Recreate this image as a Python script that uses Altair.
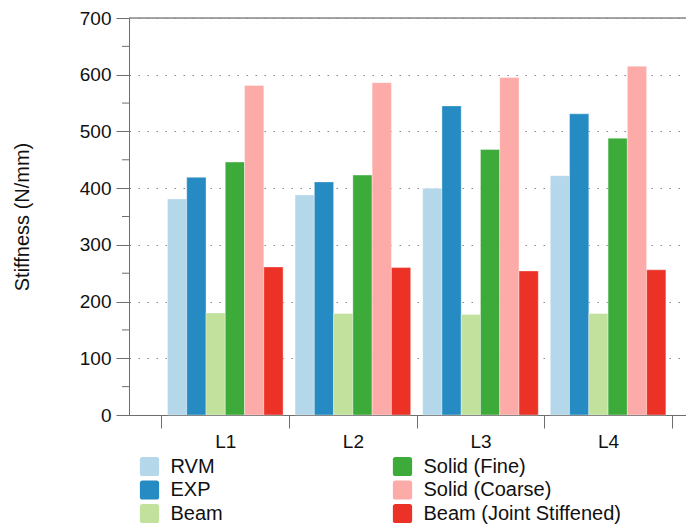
import altair as alt
import pandas as pd

groups = ["L1", "L2", "L3", "L4"]
series = ["RVM", "EXP", "Beam", "Solid (Fine)", "Solid (Coarse)", "Beam (Joint Stiffened)"]
colors = ["#b4d7ea", "#258bc2", "#c1e19d", "#3dab3a", "#fdaba8", "#ec3226"]

rvm = [381, 388, 400, 422]
exp_ = [419, 411, 545, 531]
beam = [180, 179, 177, 179]
solid_fine = [446, 423, 468, 488]
solid_coarse = [581, 586, 595, 615]
beam_joint = [261, 260, 254, 256]

y_ticks = [0, 100, 200, 300, 400, 500, 600, 700]
minor_ticks = [50, 150, 250, 350, 450, 550, 650]
y_max = 700

values = [rvm, exp_, beam, solid_fine, solid_coarse, beam_joint]
rows = []
for s, vals in zip(series, values):
    for g, v in zip(groups, vals):
        rows.append({"group": g, "series": s, "value": v})
df = pd.DataFrame(rows)

AX = "#6e6e6e"
FONT = "Liberation Sans"
W, H = 557, 397
TITLE = "Stiffness (N/mm)"

rounded_square = ("M-0.72,-1 L0.72,-1 Q1,-1 1,-0.72 L1,0.72 Q1,1 0.72,1 "
                  "L-0.72,1 Q-1,1 -1,0.72 L-1,-0.72 Q-1,-1 -0.72,-1 Z")

bars = alt.Chart(df).mark_bar(stroke="white", strokeWidth=0.8, strokeOpacity=0.45).encode(
    x=alt.X("group:N", sort=groups,
            scale=alt.Scale(paddingInner=0, paddingOuter=0.1826, align=0.697),
            axis=alt.Axis(title=None, tickBand="extent", labelAngle=0, tickSize=13,
                          labelPadding=4, labelFontSize=19, labelColor="#111",
                          domainColor=AX, tickColor=AX, grid=False)),
    xOffset=alt.XOffset("series:N", sort=series,
                        scale=alt.Scale(domain=series, paddingInner=0, paddingOuter=0.311)),
    y=alt.Y("value:Q", title=TITLE,
            scale=alt.Scale(domain=[0, y_max], nice=False),
            axis=alt.Axis(values=y_ticks, grid=True, gridDash=[1.5, 7.5], gridColor="#8a8a8a",
                          gridWidth=1, tickSize=13, labelPadding=5, labelFontSize=19,
                          labelColor="#111", domainColor=AX, tickColor=AX,
                          titleFontSize=20, titleFontWeight="normal", titleColor="#111",
                          titlePadding=47)),
    color=alt.Color("series:N",
                    scale=alt.Scale(domain=series, range=colors),
                    legend=alt.Legend(title=None, orient="none", legendX=10.5, legendY=438.5,
                                      columns=2, columnPadding=169, rowPadding=3.5,
                                      symbolType=rounded_square, symbolSize=370,
                                      symbolStrokeWidth=0, symbolOpacity=1,
                                      labelFontSize=20, labelOffset=11, labelColor="#111",
                                      labelLimit=400, padding=0)),
)

minor = alt.Chart(pd.DataFrame({"v": minor_ticks})).mark_rule(color=AX, strokeWidth=1).encode(
    y=alt.Y("v:Q", title=TITLE),
    x=alt.value(-7),
    x2=alt.value(0),
)

frame_top = alt.Chart(pd.DataFrame({"v": [y_max]})).mark_rule(color="#8a8a8a", strokeWidth=1.4).encode(
    y=alt.Y("v:Q", title=TITLE),
)

chart = alt.layer(bars, minor, frame_top).properties(
    width=W, height=H,
    autosize=alt.AutoSizeParams(type="none"),
    padding={"left": 121, "top": 10, "right": 0, "bottom": 109},
).configure_view(stroke=None).configure(font=FONT)

chart.save("out.html", embed_options={"renderer": "svg", "actions": False})
